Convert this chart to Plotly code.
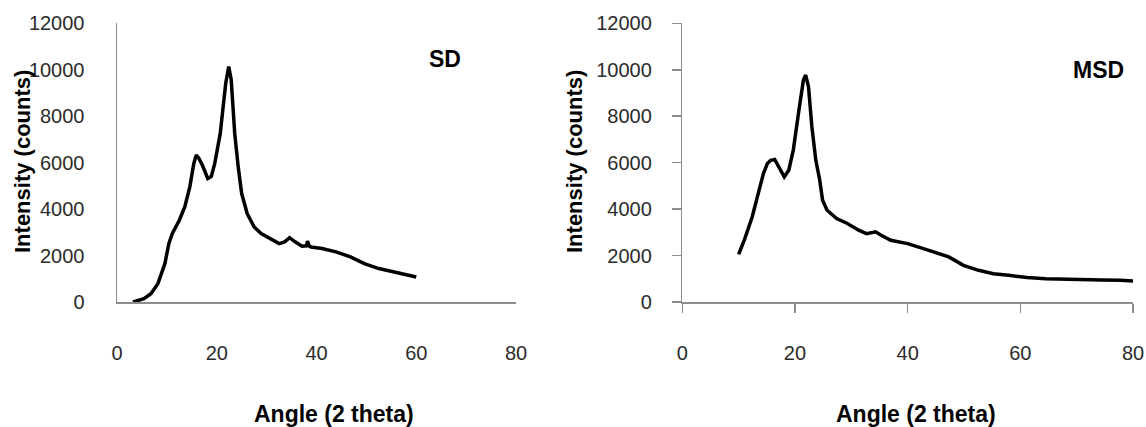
import plotly.graph_objects as go

W, H = 1146, 427

# ---- data ----
sd_angle = [3.2, 5.4, 6.8, 8.2, 9.6, 10.4, 11.1, 12.5, 13.6, 14.6, 15.4, 15.9, 16.4, 17.1,
            18.2, 18.9, 19.6, 20.7, 21.8, 22.4, 22.9, 23.6, 24.3, 25.0, 26.1, 27.5, 28.9,
            31.1, 32.5, 33.6, 34.6, 35.7, 37.1, 38.0, 38.2, 38.5, 38.9, 41.1, 43.9, 46.8,
            49.6, 52.5, 55.4, 58.2, 60.0]
sd_counts = [0, 140, 360, 790, 1650, 2520, 2950, 3520, 4100, 4960, 5970, 6330, 6190, 5900,
             5320, 5400, 5970, 7260, 9420, 10140, 9570, 7260, 5820, 4670, 3810, 3230, 2950,
             2660, 2515, 2590, 2770, 2590, 2400, 2420, 2620, 2420, 2370, 2300, 2160, 1940,
             1650, 1440, 1290, 1150, 1080]

msd_angle = [10.0, 11.1, 12.4, 13.4, 14.4, 15.1, 15.7, 16.4, 17.4, 18.1, 18.9, 19.7, 20.7,
             21.5, 21.9, 22.4, 23.0, 23.7, 24.4, 24.9, 25.7, 27.4, 29.3, 31.3, 32.7, 34.3,
             35.3, 37.0, 40.0, 42.0, 44.6, 47.3, 49.9, 52.6, 55.2, 57.9, 61.2, 64.5, 67.9,
             71.2, 74.5, 77.8, 80.0]
msd_counts = [2055, 2730, 3660, 4530, 5530, 5960, 6100, 6135, 5675, 5390, 5675, 6540, 8260,
              9555, 9770, 9270, 7540, 6100, 5245, 4380, 3950, 3590, 3380, 3090, 2945, 3020,
              2875, 2660, 2515, 2370, 2155, 1940, 1580, 1365, 1220, 1150, 1050, 1005, 977,
              963, 948, 934, 905]

x_ticks = [0, 20, 40, 60, 80]
x_ticktext = ["0", "20", "40", "60", "80"]
y_ticks = [0, 2000, 4000, 6000, 8000, 10000, 12000]
y_ticktext = ["0", "2000", "4000", "6000", "8000", "10000", "12000"]
x_title = "Angle (2 theta)"
y_title = "Intensity (counts)"
labels = ["SD", "MSD"]


def px(x):
    return x / W


def py(y):
    return 1 - y / H


FONT = "Liberation Sans, Arial, sans-serif"
AXIS_COL = "#8c8c8c"
TXT = "#2b2b2b"

fig = go.Figure()
fig.add_trace(go.Scatter(x=sd_angle, y=sd_counts, mode="lines",
                         line=dict(color="black", width=3.5), xaxis="x", yaxis="y",
                         showlegend=False, hoverinfo="skip"))
fig.add_trace(go.Scatter(x=msd_angle, y=msd_counts, mode="lines",
                         line=dict(color="black", width=3.5), xaxis="x2", yaxis="y2",
                         showlegend=False, hoverinfo="skip"))

ydom = [py(302), py(23.3)]
common_x = dict(range=[0, 80], tickvals=x_ticks, ticktext=x_ticktext, showgrid=False,
                zeroline=False, showline=True, linecolor=AXIS_COL, linewidth=1.5,
                tickfont=dict(family=FONT, size=20, color=TXT), automargin=False,
                fixedrange=True)
common_y = dict(range=[0, 12000], tickvals=y_ticks, ticktext=y_ticktext, showgrid=False,
                zeroline=False, showline=True, linecolor=AXIS_COL, linewidth=1.5,
                tickfont=dict(family=FONT, size=20, color=TXT), automargin=False,
                fixedrange=True)

fig.update_layout(
    width=W, height=H,
    margin=dict(l=0, r=0, t=0, b=0),
    paper_bgcolor="white", plot_bgcolor="white",
    xaxis=dict(domain=[px(117), px(516)], anchor="y", ticks="",
               ticklabelstandoff=32, **common_x),
    yaxis=dict(domain=ydom, anchor="x", ticks="", ticklabelstandoff=27, **common_y),
    xaxis2=dict(domain=[px(682.3), px(1133)], anchor="y2", ticks="outside", ticklen=9,
                tickwidth=1.5, tickcolor=AXIS_COL, ticklabelstandoff=23, **common_x),
    yaxis2=dict(domain=ydom, anchor="x2", ticks="outside", ticklen=9, tickwidth=1.5,
                tickcolor=AXIS_COL, ticklabelstandoff=16, **common_y),
)

ann = []
for cx in (334, 916):
    ann.append(dict(text=x_title, x=px(cx), y=py(414), xref="paper", yref="paper",
                    xanchor="center", yanchor="middle", showarrow=False,
                    font=dict(family=FONT, size=23, color="black", weight="bold")))
for cx in (22, 574):
    ann.append(dict(text=y_title, x=px(cx), y=py(162), xref="paper", yref="paper",
                    xanchor="center", yanchor="middle", showarrow=False, textangle=-90,
                    font=dict(family=FONT, size=22, color="black", weight="bold")))
ann.append(dict(text=labels[0], x=px(445), y=py(58.5), xref="paper", yref="paper",
                xanchor="center", yanchor="middle", showarrow=False,
                font=dict(family=FONT, size=23, color="black", weight="bold")))
ann.append(dict(text=labels[1], x=px(1098), y=py(70), xref="paper", yref="paper",
                xanchor="center", yanchor="middle", showarrow=False,
                font=dict(family=FONT, size=23, color="black", weight="bold")))
fig.update_layout(annotations=ann)

fig.write_html("out.html",
               config={"displayModeBar": False, "staticPlot": True},
               post_script="document.body.style.margin='0px';"
                           "document.body.style.overflow='hidden';")
